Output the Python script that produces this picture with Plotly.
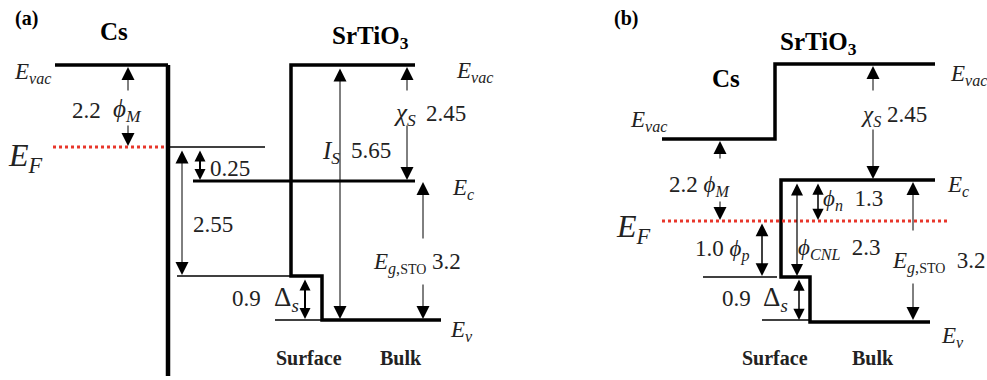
import plotly.graph_objects as go

# ---------------- data (energies in eV, as labelled) ----------------
a_names = ["phi_M", "EF_Ec", "EF_surf", "Delta_s", "I_S", "chi_S", "Eg"]
a_values = [2.2, 0.25, 2.55, 0.9, 5.65, 2.45, 3.2]
b_names = ["phi_M", "phi_p", "Delta_s", "phi_CNL", "phi_n", "chi_S", "Eg"]
b_values = [2.2, 1.0, 0.9, 2.3, 1.3, 2.45, 3.2]
A = dict(zip(a_names, a_values))
B = dict(zip(b_names, b_values))

def f(v, n=None):
    if n is not None:
        return f"{v:.{n}f}"
    return f"{v:g}"

# ---------------- diagram geometry (drawing units) ----------------
# panel (a)
a_cs_x = [55, 168, 168]
a_cs_y = [65, 65, 376]
a_sto_x = [415, 291, 291, 322, 322, 441]
a_sto_y = [65, 65, 276, 276, 320, 320]
a_ec_x = [193, 415]
a_ec_y = [181, 181]
a_thin = [((170, 147), (265, 147)), ((177, 276), (290, 276)), ((275, 320), (322, 320))]
a_ef = ((53, 147), (167, 147))
# panel (b)
b_cs_x = [662, 775, 775, 935]
b_cs_y = [139, 139, 64, 64]
b_sto_x = [935, 781, 781, 810, 810, 930]
b_sto_y = [180, 180, 277, 277, 322, 322]
b_thin = [((703, 277), (777, 277)), ((762, 320), (810, 320))]
b_ef = ((662, 221), (948, 221))

SERIF = "Liberation Serif"
PHI = "\u03d5"
fig = go.Figure()

def poly(xs, ys, w):
    fig.add_trace(go.Scatter(x=xs, y=ys, mode="lines", line=dict(color="black", width=w),
                             hoverinfo="skip", showlegend=False))

def seg(p, q, w=1.5, color="black", dash="solid"):
    fig.add_trace(go.Scatter(x=[p[0], q[0]], y=[p[1], q[1]], mode="lines",
                             line=dict(color=color, width=w, dash=dash),
                             hoverinfo="skip", showlegend=False))

def arrow(x, y0, y1, w=1.0, both=False, size=2.6):
    # arrow from y0 (tail) to y1 (head)
    fig.add_annotation(x=x, y=y1, ax=x, ay=y0, xref="x", yref="y", axref="x", ayref="y",
                       text="", showarrow=True, arrowhead=2, arrowsize=size, arrowwidth=w,
                       arrowcolor="black", arrowside="end+start" if both else "end",
                       standoff=0, startstandoff=0)

def txt(x, y, s, size=19, bold=False, color="#222222", anchor="center"):
    if bold:
        s = f"<b>{s}</b>"
    fig.add_annotation(x=x, y=y, xref="x", yref="y", text=s, showarrow=False,
                       font=dict(family=SERIF, size=size, color=color),
                       xanchor=anchor, yanchor="middle")

RED = "#e8362b"
NUM = 23
SYM = 25
ELAB = 23

# ---------- panel (a) ----------
poly(a_cs_x[:2], a_cs_y[:2], 3.5)
poly(a_cs_x[1:], a_cs_y[1:], 4.5)
poly(a_sto_x, a_sto_y, 3.5)
poly(a_ec_x, a_ec_y, 3)
for p, q in a_thin:
    seg(p, q, 1.6)
seg(a_ef[0], a_ef[1], 3, RED, "dot")

arrow(128, 92, 67)
arrow(128, 124, 146)
arrow(182, 149, 275, both=True)
arrow(200, 149, 180, w=2, both=True, size=1.1)
arrow(340, 67, 319, both=True)
arrow(407, 92, 67)
arrow(407, 124, 180)
arrow(423, 240, 182)
arrow(423, 283, 319)
arrow(305, 278, 319, w=2, both=True, size=1.1)

txt(26, 18, "(a)", 20, bold=True, color="black")
txt(114, 31, "Cs", 25, bold=True, color="black")
txt(32, 73, "<i>E<sub>vac</sub></i>", ELAB)
txt(86, 110, f(A["phi_M"], 1), NUM)
txt(127, 110, f"<i>{PHI}<sub>M</sub></i>", SYM)
txt(25, 157, "<i>E<sub>F</sub></i>", 32)
txt(230, 168, f(A["EF_Ec"], 2), NUM)
txt(213, 224, f(A["EF_surf"], 2), NUM)
txt(246, 298, f(A["Delta_s"], 1), NUM)
txt(286, 299, "Δ<sub><i>s</i></sub>", 27)
txt(370, 37, "SrTiO<sub>3</sub>", 25, bold=True, color="black")
txt(474, 72, "<i>E<sub>vac</sub></i>", ELAB)
txt(463, 189, "<i>E<sub>c</sub></i>", ELAB)
txt(461, 331, "<i>E<sub>v</sub></i>", ELAB)
txt(331, 152, "<i>I<sub>S</sub></i>", SYM)
txt(371, 150, f(A["I_S"], 2), NUM)
txt(405, 114, "<i>χ<sub>S</sub></i>", SYM)
txt(446, 113, f(A["chi_S"], 2), NUM)
txt(417, 263, "<i>E</i><sub><i>g</i>,<span style='font-size:14px'>STO</span></sub> " + f(A["Eg"], 1), NUM)
txt(309, 358, "Surface", 20, bold=True)
txt(401, 358, "Bulk", 20, bold=True)

# ---------- panel (b) ----------
poly(b_cs_x, b_cs_y, 3.5)
poly(b_sto_x, b_sto_y, 3.5)
for p, q in b_thin:
    seg(p, q, 1.6)
seg(b_ef[0], b_ef[1], 3, RED, "dot")

arrow(720, 160, 141)
arrow(720, 200, 220)
arrow(873, 92, 66)
arrow(873, 128, 179)
arrow(762, 222, 276, w=1.5, both=True, size=1.7)
arrow(799, 278, 320, w=1.5, both=True, size=1.5)
arrow(797, 182, 276, w=1.2, both=True, size=2.0)
arrow(818, 182, 220, w=1.5, both=True, size=1.5)
arrow(913, 232, 182)
arrow(913, 282, 320)

txt(626, 18, "(b)", 20, bold=True, color="black")
txt(818, 43, "SrTiO<sub>3</sub>", 25, bold=True, color="black")
txt(726, 78, "Cs", 25, bold=True, color="black")
txt(648, 121, "<i>E<sub>vac</sub></i>", ELAB)
txt(968, 75, "<i>E<sub>vac</sub></i>", ELAB)
txt(958, 186, "<i>E<sub>c</sub></i>", ELAB)
txt(952, 337, "<i>E<sub>v</sub></i>", ELAB)
txt(894, 116, "<i>χ<sub>S</sub></i> " + f(B["chi_S"], 2), NUM)
txt(699, 186, f(B["phi_M"], 1) + f" <i>{PHI}<sub>M</sub></i>", NUM)
txt(633, 228, "<i>E<sub>F</sub></i>", 32)
txt(722, 250, f(B["phi_p"], 1) + f" <i>{PHI}<sub>p</sub></i>", NUM)
txt(736, 298, f(B["Delta_s"], 1), NUM)
txt(775, 299, "Δ<sub><i>s</i></sub>", 27)
txt(839, 249, f"<i>{PHI}<sub>CNL</sub></i>  " + f(B["phi_CNL"], 1), NUM)
txt(853, 200, f"<i>{PHI}<sub>n</sub></i>  " + f(B["phi_n"], 1), NUM)
txt(939, 262, "<i>E</i><sub><i>g</i>,<span style='font-size:14px'>STO</span></sub>  " + f(B["Eg"], 1), NUM)
txt(775, 358, "Surface", 20, bold=True)
txt(873, 358, "Bulk", 20, bold=True)

fig.update_layout(
    width=987, height=380, autosize=False,
    margin=dict(l=0, r=0, t=0, b=0),
    paper_bgcolor="white", plot_bgcolor="white",
    font=dict(family=SERIF),
    xaxis=dict(range=[0, 987], visible=False, fixedrange=True),
    yaxis=dict(range=[380, 0], visible=False, fixedrange=True),
    showlegend=False,
)
fig.write_html("out.html", config={"displayModeBar": False})
